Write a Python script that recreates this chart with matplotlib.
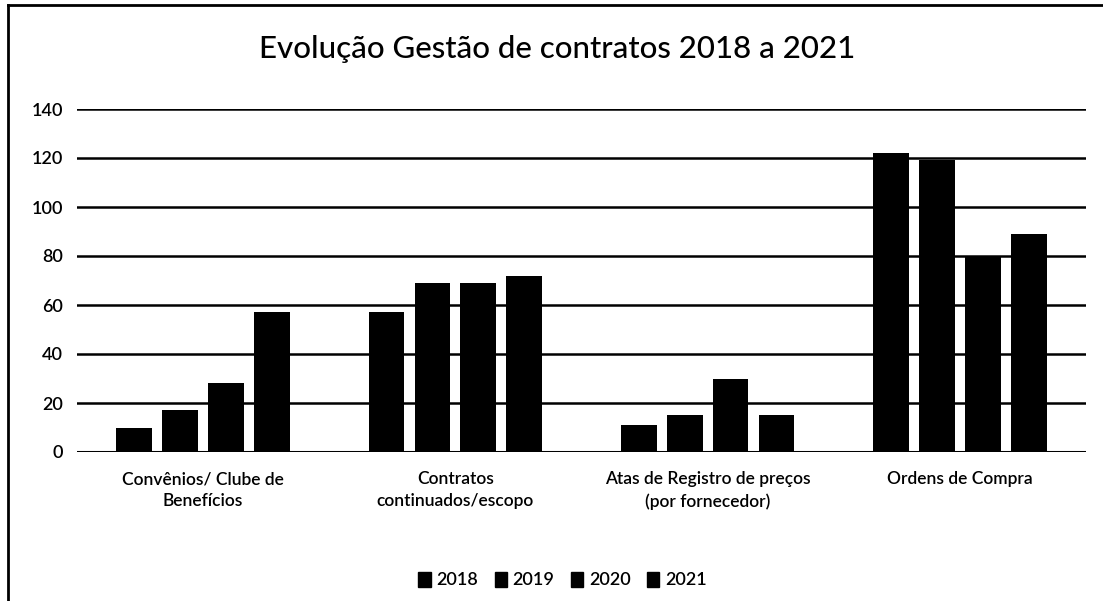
import matplotlib
matplotlib.use("Agg")
import matplotlib.pyplot as plt
import numpy as np
from matplotlib.lines import Line2D
from matplotlib.patches import Patch

plt.rcParams['font.family'] = ['Lato', 'DejaVu Sans']

categories = ["Convênios/ Clube de\nBenefícios",
              "Contratos\ncontinuados/escopo",
              "Atas de Registro de preços\n(por fornecedor)",
              "Ordens de Compra"]
years = ["2018", "2019", "2020", "2021"]
values_2018 = [10, 57, 11, 122]
values_2019 = [17, 69, 15, 119]
values_2020 = [28, 69, 30, 80]
values_2021 = [57, 72, 15, 89]
series = [values_2018, values_2019, values_2020, values_2021]
y_ticks = [0, 20, 40, 60, 80, 100, 120, 140]

W, H = 1103, 601
fig = plt.figure(figsize=(W / 100, H / 100), dpi=100)
fig.patch.set_facecolor("white")

ax = fig.add_axes([77 / W, 1 - 452 / H, (1086 - 77) / W, (452 - 109) / H])
x = np.arange(len(categories))
step = 0.182
width = 0.142
for i, vals in enumerate(series):
    ax.bar(x + (i - 1.5) * step, vals, width=width, color="black", zorder=3)

ax.set_xlim(-0.5, len(categories) - 0.5)
ax.set_ylim(0, 140)
ax.set_yticks(y_ticks)
ax.set_yticklabels([str(t) for t in y_ticks], fontsize=13, fontweight="semibold")
ax.grid(axis="y", color="black", linewidth=1.8, zorder=0)
ax.set_xticks(x)
ax.set_xticklabels(categories, fontsize=12.5, linespacing=1.45,
                   fontweight="semibold")
ax.tick_params(axis="both", length=0, pad=10)
ax.tick_params(axis="x", pad=14)
for s in ax.spines.values():
    s.set_visible(False)
ax.axhline(0, color="black", linewidth=2.2, zorder=4)

fig.text(0.505, 1 - 49 / H, "Evolução Gestão de contratos 2018 a 2021",
         ha="center", va="center", fontsize=22.5, fontweight="medium")

handles = [Patch(facecolor="black", edgecolor="black") for _ in years]
fig.legend(handles, years, loc="center", bbox_to_anchor=(0.51, 1 - 580 / H),
           ncol=4, frameon=False, fontsize=13, handlelength=0.7,
           handleheight=0.9, handletextpad=0.3, columnspacing=0.9,
           prop={"size": 13, "weight": "semibold"})

# outer chart border
fig.add_artist(Line2D([8 / W, 8 / W], [0, 1 - 5 / H], color="black",
                      linewidth=2, transform=fig.transFigure))
fig.add_artist(Line2D([8 / W, 1], [1 - 5 / H, 1 - 5 / H], color="black",
                      linewidth=2, transform=fig.transFigure))

fig.savefig("out.png", dpi=100)
